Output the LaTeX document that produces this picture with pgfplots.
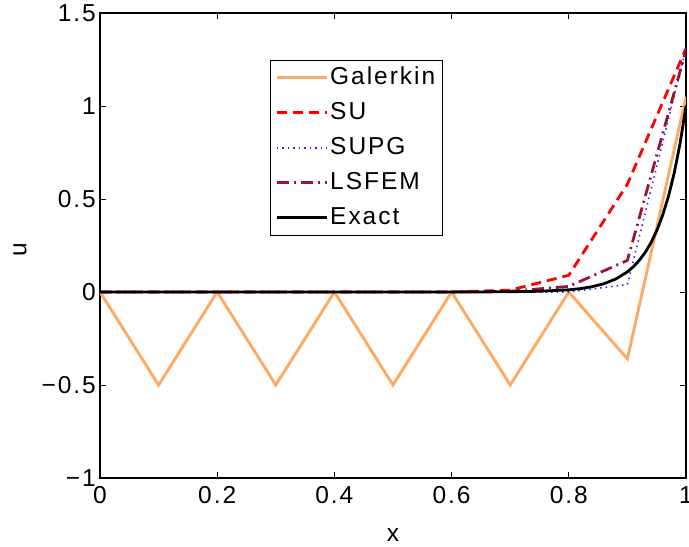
\documentclass[border=0pt]{standalone}
\usepackage{pgfplots}
\pgfplotsset{compat=1.18}
\usepackage{fontspec}
\setmainfont{Liberation Sans}[LetterSpace=8]
\definecolor{galc}{RGB}{255,170,100}
\definecolor{suc}{RGB}{255,0,0}
\definecolor{supgc}{RGB}{40,40,255}
\definecolor{lsc}{RGB}{155,20,50}
\begin{document}
\begin{tikzpicture}
\begin{axis}[
  name=ax,
  scale only axis,
  width=586pt, height=465pt,
  xmin=0, xmax=1, ymin=-1, ymax=1.5,
  xtick={0,0.2,0.4,0.6,0.8,1},
  xticklabels={0,0.2,0.4,0.6,0.8,1},
  ytick={-1,-0.5,0,0.5,1,1.5},
  yticklabels={−1,−0.5,0,0.5,1,1.5},
  tick align=inside,
  major tick length=6pt,
  tick style={black, line width=0.8pt},
  axis line style={line width=1.1pt},
  font=\fontsize{24.5}{28}\selectfont,
  xticklabel style={inner sep=1pt, yshift=-7pt},
  yticklabel style={inner sep=1pt, xshift=-3pt},
  xlabel={x}, ylabel={u},
  xlabel style={at={(axis description cs:0.5,-0.123)}, anchor=center},
  ylabel style={at={(axis description cs:-0.1365,0.49)}, anchor=center},
  legend cell align=left,
  legend style={at={(0.29,0.899)}, anchor=north west, draw=black, line width=0.8pt,
     inner xsep=5pt, inner ysep=4pt, row sep=8pt,
     nodes={inner sep=2pt, text height=18pt, text depth=5pt},
     font=\fontsize{24.5}{28}\selectfont},
  legend image code/.code={\draw[#1] (0pt,0pt) -- (45pt,0pt); \path (0pt,0pt) -- (50pt,0pt);},
]
\addplot[color=galc, line width=2.9pt] coordinates {
(0,0)(0.1,-0.5)(0.2,0)(0.3,-0.5)(0.4,0)(0.5,-0.5)(0.6,0)(0.7,-0.5)(0.8,0)(0.9,-0.36)(1,1.05)};
\addlegendentry{Galerkin}
\addplot[color=suc, line width=2.8pt, dash pattern=on 10pt off 6pt] coordinates {
(0,0)(0.1,0)(0.2,0)(0.3,0)(0.4,0)(0.5,0)(0.6,0)(0.7,0.01)(0.8,0.09)(0.9,0.58)(1,1.31)};
\addlegendentry{SU}
\addplot[color=supgc, line width=1.6pt, dash pattern=on 1.5pt off 4pt] coordinates {
(0,0)(0.1,0)(0.2,0)(0.3,0)(0.4,0)(0.5,0)(0.6,0)(0.7,0)(0.8,0)(0.9,0.04)(1,1.31)};
\addlegendentry{SUPG}
\addplot[color=lsc, line width=2.8pt, dash pattern=on 12pt off 5pt on 2pt off 5pt] coordinates {
(0,0)(0.1,0)(0.2,0)(0.3,0)(0.4,0)(0.5,0)(0.6,0)(0.7,0.004)(0.8,0.03)(0.9,0.17)(1,1.30)};
\addlegendentry{LSFEM}
\addplot[color=black, line width=2.8pt] coordinates {
(0,0)(0.1,0)(0.2,0)(0.3,0)(0.4,0)(0.5,0)(0.6,0.0001)(0.65,0.0004)(0.7,0.0013)(0.75,0.0039)(0.8,0.0117)(0.82,0.0183)(0.84,0.0286)(0.86,0.0446)(0.88,0.0695)(0.90,0.1084)(0.91,0.1354)(0.92,0.1690)(0.93,0.2111)(0.94,0.2636)(0.95,0.3292)(0.96,0.4111)(0.97,0.5134)(0.98,0.6412)(0.99,0.8007)(1,1)};
\addlegendentry{Exact}
\end{axis}
\pgfresetboundingbox
\path ([shift={(-100pt,-69pt)}]ax.south west) rectangle ([shift={(3pt,13pt)}]ax.north east);
\end{tikzpicture}
\end{document}
